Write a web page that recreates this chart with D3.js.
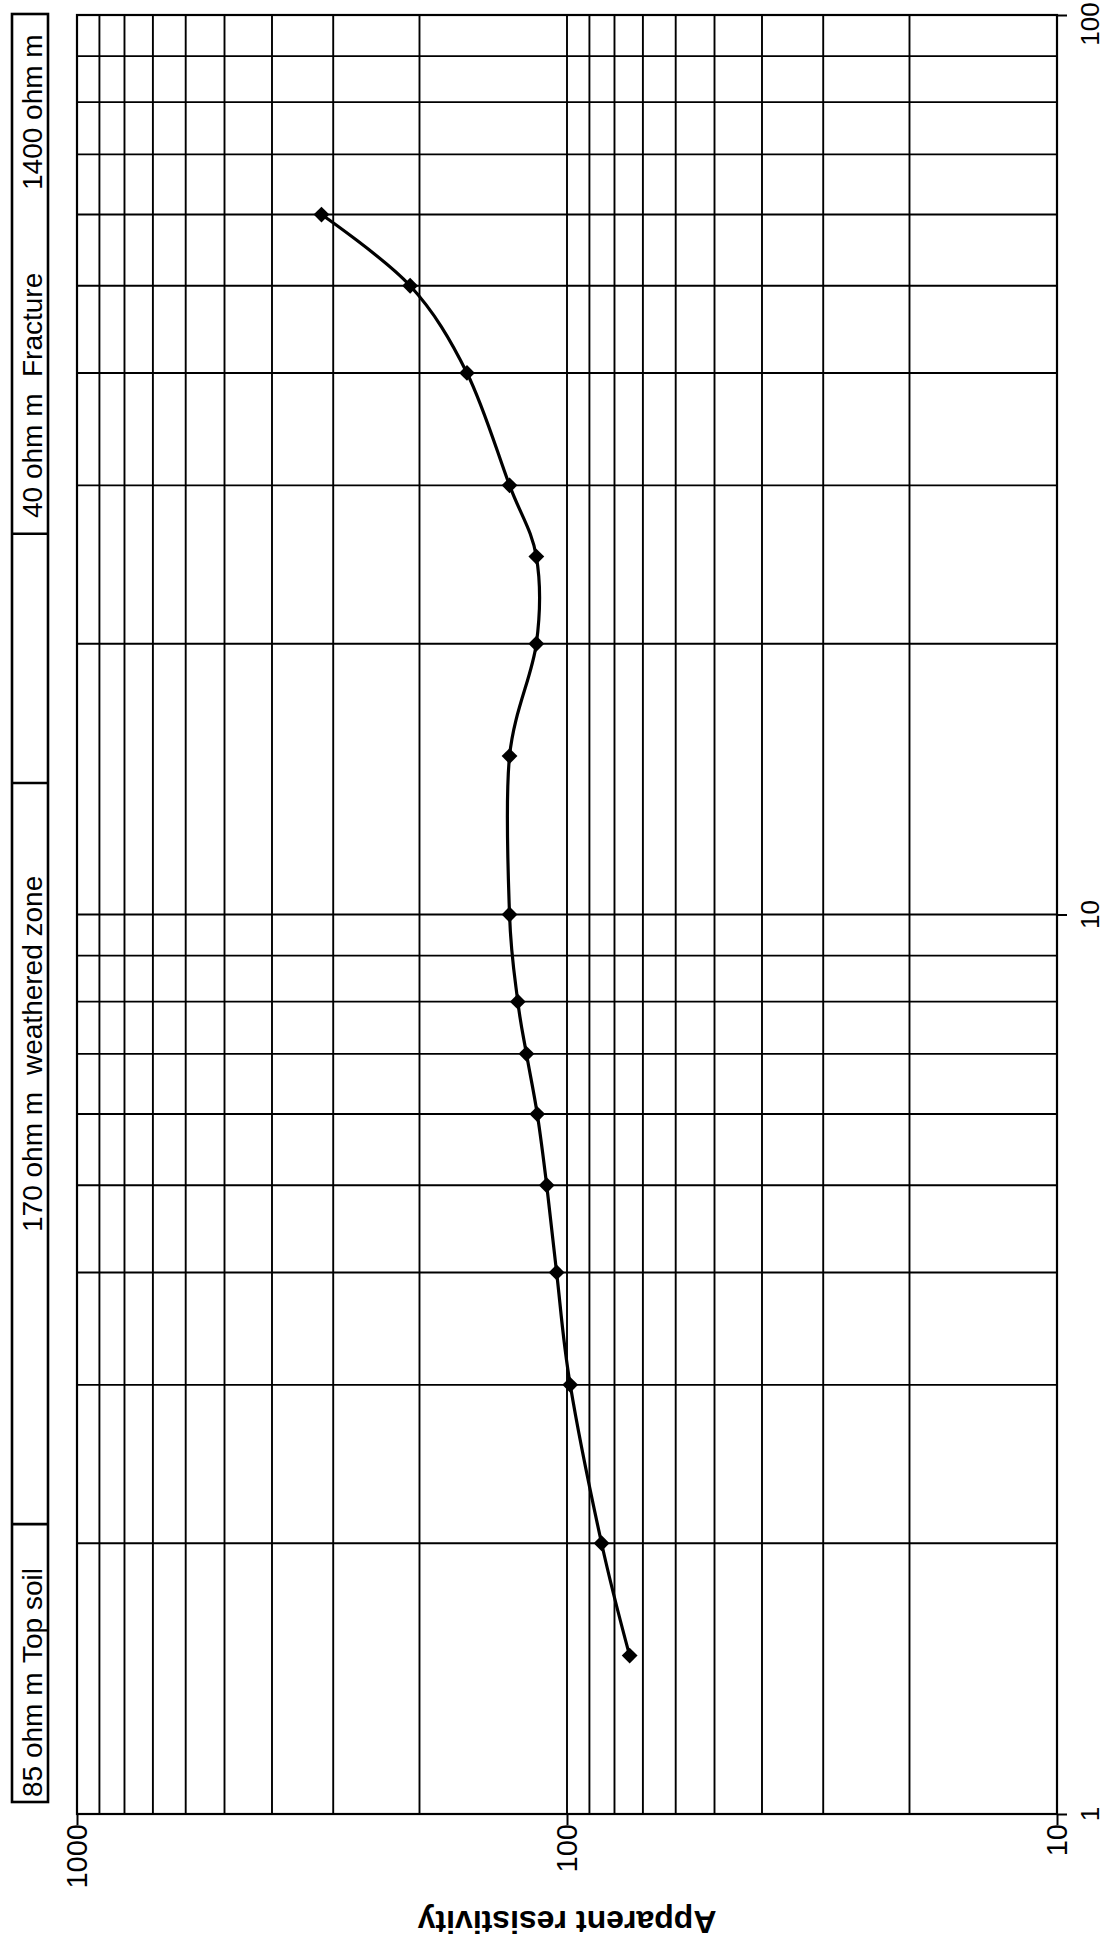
<!DOCTYPE html>
<html>
<head>
<meta charset="utf-8">
<script src="https://cdn.jsdelivr.net/npm/d3@7"></script>
<style>
  html, body { margin: 0; padding: 0; background: #fff; }
  svg { display: block; font-family: "Liberation Sans", Arial, Helvetica, sans-serif; }
</style>
</head>
<body>
<svg id="chart" width="1112" height="1954"></svg>
<script>
// Vertical electrical sounding: half electrode spacing AB/2 (m) vs apparent resistivity (ohm m)
const spacing     = [1.5, 2, 3, 4, 5, 6, 7, 8, 10, 15, 20, 25, 30, 40, 50, 60];
const resistivity = [74.5, 85, 98.5, 105, 110, 115, 121, 126, 131, 131, 115.5, 115.5, 131, 160, 209, 317];

const resistivityTicks = [1000, 100, 10];
const spacingTicks     = [1, 10, 100];
const axisTitle = "Apparent resistivity";

// Interpreted layers (bottom to top) and their upper boundaries in spacing units
const layerBoundaries = [2.1, 14, 26.5];
const layerLabels = [
  ["85 ohm m", "Top soil"],
  ["170 ohm m", "weathered zone"],
  ["40 ohm m", "Fracture", "1400 ohm m"]
];

// ---- layout ----
const W = 1112, H = 1954;
const plot = { left: 77, right: 1057, top: 15, bottom: 1814 };
const box = { left: 12, right: 48, top: 14, bottom: 1802 };
// start (lower end) of each rotated label segment
const labelStarts = [[1797, 1663], [1232, 1075], [518, 377, 190]];

const svg = d3.select("#chart");

const x = d3.scaleLog().domain([1000, 10]).range([plot.left, plot.right]);
const y = d3.scaleLog().domain([1, 100]).range([plot.bottom, plot.top]);

// ---- grid ----
const grid = svg.append("g").attr("stroke", "#000").attr("stroke-width", 1.9).attr("fill", "none");

grid.selectAll("line.v").data(x.ticks()).join("line")
  .attr("class", "v")
  .attr("x1", d => x(d)).attr("x2", d => x(d))
  .attr("y1", plot.top).attr("y2", plot.bottom);

grid.selectAll("line.h").data(y.ticks()).join("line")
  .attr("class", "h")
  .attr("x1", plot.left).attr("x2", plot.right)
  .attr("y1", d => y(d)).attr("y2", d => y(d));

// plot frame
svg.append("rect")
  .attr("x", plot.left).attr("y", plot.top)
  .attr("width", plot.right - plot.left).attr("height", plot.bottom - plot.top)
  .attr("fill", "none").attr("stroke", "#000").attr("stroke-width", 2.2);

// ---- resistivity axis (bottom) ----
const bottomAxis = svg.append("g")
  .attr("transform", `translate(0,${plot.bottom})`)
  .call(d3.axisBottom(x).tickValues(resistivityTicks).tickSize(11).tickFormat(""));
bottomAxis.select(".domain").remove();
bottomAxis.selectAll(".tick line").attr("stroke", "#000").attr("stroke-width", 2);

svg.append("g").selectAll("text").data(resistivityTicks).join("text")
  .attr("transform", d => `translate(${x(d) + 10},${plot.bottom + 10}) rotate(-90)`)
  .attr("text-anchor", "end")
  .attr("font-size", 29)
  .attr("fill", "#000")
  .text(d => d3.format("d")(d));

// ---- spacing axis (right) ----
const rightAxis = svg.append("g")
  .attr("transform", `translate(${plot.right},0)`)
  .call(d3.axisRight(y).tickValues(spacingTicks).tickSize(10).tickFormat(""));
rightAxis.select(".domain").remove();
rightAxis.selectAll(".tick line").attr("stroke", "#000").attr("stroke-width", 2);

// labels kept inside the page at the top edge
svg.append("g").selectAll("text").data(spacingTicks).join("text")
  .attr("transform", d => `translate(${plot.right + 42},${Math.max(y(d), 24)}) rotate(-90)`)
  .attr("text-anchor", "middle")
  .attr("font-size", 26)
  .attr("fill", "#000")
  .text(d => d3.format("d")(d));

// ---- axis title (upside down) ----
svg.append("text")
  .attr("transform", `translate(${(plot.left + plot.right) / 2},1911) rotate(180)`)
  .attr("text-anchor", "middle")
  .attr("font-size", 32)
  .attr("font-weight", "bold")
  .attr("fill", "#000")
  .text(axisTitle);

// ---- layer column on the left ----
const layerG = svg.append("g");
layerG.append("rect")
  .attr("x", box.left).attr("y", box.top)
  .attr("width", box.right - box.left).attr("height", box.bottom - box.top)
  .attr("fill", "none").attr("stroke", "#000").attr("stroke-width", 2.6);

layerG.selectAll("line").data(layerBoundaries).join("line")
  .attr("x1", box.left).attr("x2", box.right)
  .attr("y1", d => y(d)).attr("y2", d => y(d))
  .attr("stroke", "#000").attr("stroke-width", 2.6);

layerLabels.forEach((parts, i) => {
  parts.forEach((txt, j) => {
    layerG.append("text")
      .attr("transform", `translate(42,${labelStarts[i][j]}) rotate(-90)`)
      .attr("text-anchor", "start")
      .attr("font-size", 28)
      .attr("fill", "#000")
      .text(txt);
  });
});

// ---- sounding curve ----
const pts = spacing.map((s, i) => [x(resistivity[i]), y(s)]);

svg.append("path")
  .attr("d", d3.line().curve(d3.curveCardinal.tension(0))(pts))
  .attr("fill", "none")
  .attr("stroke", "#000")
  .attr("stroke-width", 3.2)
  .attr("stroke-linejoin", "round");

svg.append("g").selectAll("path").data(pts).join("path")
  .attr("transform", d => `translate(${d[0]},${d[1]}) rotate(45)`)
  .attr("d", d3.symbol().type(d3.symbolSquare).size(125)())
  .attr("fill", "#000");
</script>
</body>
</html>
